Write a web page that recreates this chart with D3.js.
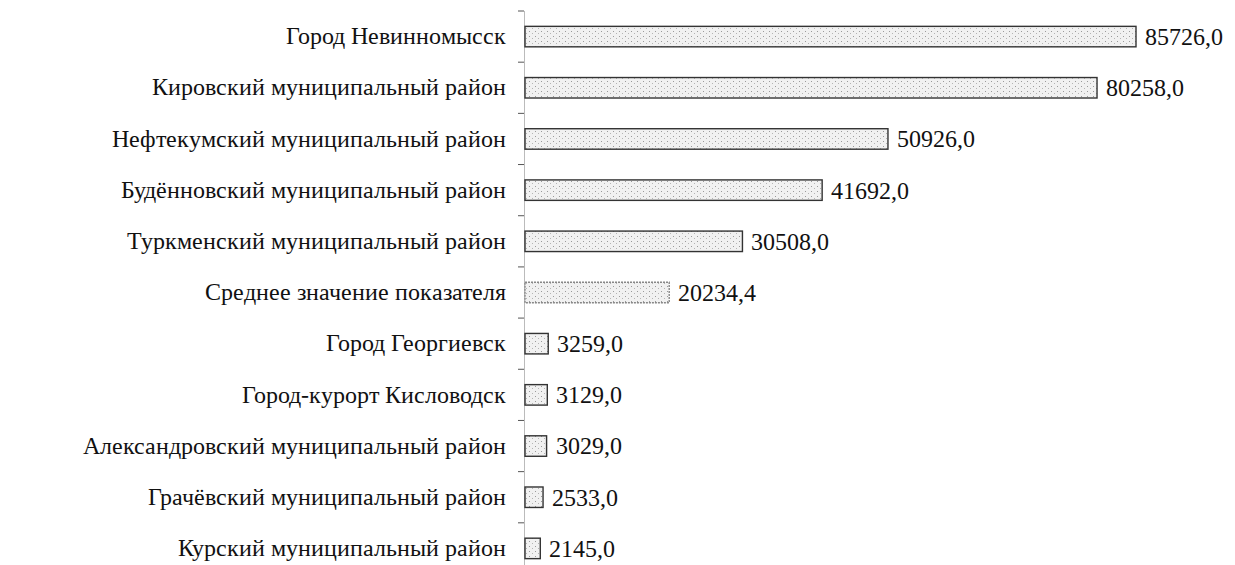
<!DOCTYPE html>
<html>
<head>
<meta charset="utf-8">
<script src="https://cdn.jsdelivr.net/npm/d3@7"></script>
<style>
  @font-face { font-family: "ChartSerif"; src: local("Liberation Serif"), local("LiberationSerif"), local("LiberationSerif-Regular"); }
  body { margin: 0; background: #fff; }
</style>
</head>
<body>
<svg id="viz" width="1235" height="565"></svg>
<script>
// data
var categories = [
  "Город Невинномысск",
  "Кировский муниципальный район",
  "Нефтекумский муниципальный район",
  "Будённовский муниципальный район",
  "Туркменский муниципальный район",
  "Среднее значение показателя",
  "Город Георгиевск",
  "Город-курорт Кисловодск",
  "Александровский муниципальный район",
  "Грачёвский муниципальный район",
  "Курский муниципальный район"
];
var values = [85726.0, 80258.0, 50926.0, 41692.0, 30508.0, 20234.4, 3259.0, 3129.0, 3029.0, 2533.0, 2145.0];

var FONT = "ChartSerif, \"Liberation Serif\", \"Times New Roman\", serif";
var svg = d3.select("#viz");
var x0 = 524;

var defs = svg.append("defs");
var pat = defs.append("pattern")
  .attr("id", "dots")
  .attr("width", 6).attr("height", 5)
  .attr("patternUnits", "userSpaceOnUse");
pat.append("rect").attr("width", 6).attr("height", 5).attr("fill", "#f1f1f1");
pat.append("rect").attr("x", 1).attr("y", 1).attr("width", 1).attr("height", 1).attr("fill", "#9a9a9a");
pat.append("rect").attr("x", 4).attr("y", 3).attr("width", 1).attr("height", 1).attr("fill", "#b5b5b5");

var xScale = d3.scaleLinear()
  .domain([0, 85726])
  .range([x0, 1135]);

var yScale = d3.scaleBand()
  .domain(categories)
  .range([11, 574])
  .paddingInner(0.6)
  .paddingOuter(0.3);

// category axis
var axis = svg.append("g")
  .attr("transform", "translate(" + x0 + ",0)")
  .call(d3.axisLeft(yScale).tickSize(0).tickPadding(18));
axis.attr("font-family", null).attr("font-size", null);
axis.select(".domain")
  .attr("stroke", "#777")
  .attr("stroke-dasharray", "1,1");
axis.selectAll("text")
  .attr("fill", "#111")
  .style("font-family", FONT, "important")
  .style("font-size", "24px", "important");

// small tick marks between categories
var step = yScale.step();
var bounds = d3.range(categories.length + 1).map(function(i) { return 11 + i * step; });
svg.append("g").selectAll("line")
  .data(bounds)
  .enter()
  .append("line")
  .attr("x1", x0 - 6)
  .attr("x2", x0)
  .attr("y1", function(d) { return d; })
  .attr("y2", function(d) { return d; })
  .attr("stroke", "#555")
  .attr("stroke-width", 1);

// bars
svg.append("g").selectAll("rect")
  .data(values)
  .enter()
  .append("rect")
  .attr("x", xScale(0) + 1)
  .attr("y", function(d, i) { return yScale(categories[i]); })
  .attr("width", function(d) { return xScale(d) - xScale(0); })
  .attr("height", yScale.bandwidth())
  .attr("fill", "url(#dots)")
  .attr("stroke", function(d, i) { return i === 5 ? "#888" : "#333"; })
  .attr("stroke-width", 1.4)
  .attr("stroke-dasharray", function(d, i) { return i === 5 ? "2,1" : null; });

// value labels
svg.append("g").selectAll("text")
  .data(values)
  .enter()
  .append("text")
  .attr("x", function(d) { return xScale(d) + 10; })
  .attr("y", function(d, i) { return yScale(categories[i]) + yScale.bandwidth() / 2; })
  .attr("dy", "0.35em")
  .attr("fill", "#111")
  .style("font-family", FONT, "important")
  .style("font-size", "24px", "important")
  .text(function(d) { return d.toFixed(1).replace(".", ","); });
</script>
</body>
</html>
